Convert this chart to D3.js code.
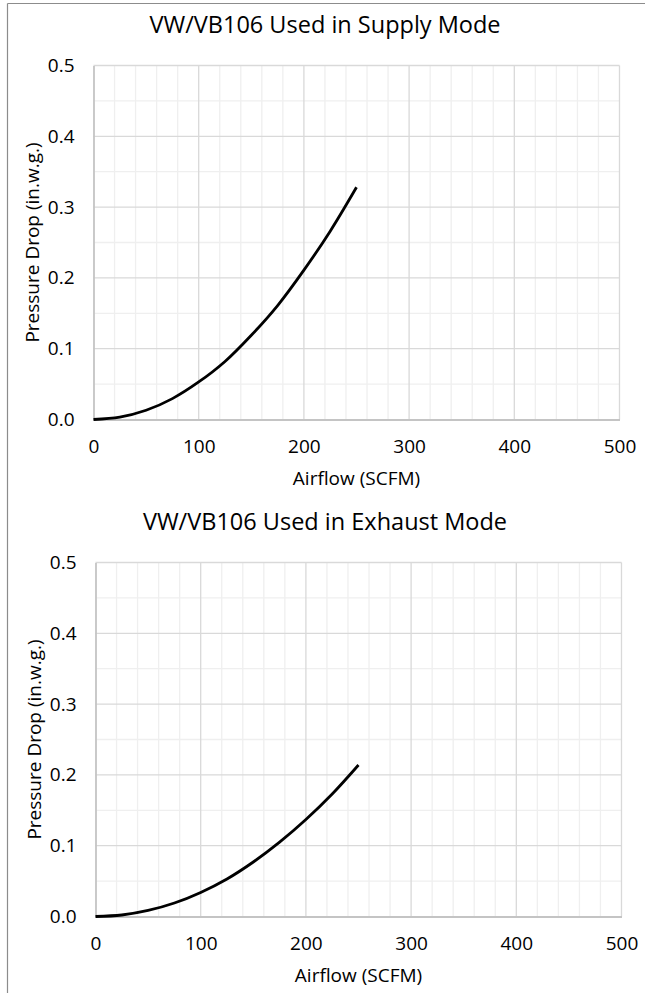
<!DOCTYPE html>
<html>
<head>
<meta charset="utf-8">
<script src="https://cdn.jsdelivr.net/npm/d3@7"></script>
<style>
  html, body { margin: 0; padding: 0; background: #fff; }
  svg { display: block; }
  text { font-family: "Open Sans", sans-serif; fill: #000; }
</style>
</head>
<body>
<svg id="chart" width="645" height="995"></svg>
<script>
// ---- Data ----
const chartTitles = ["VW/VB106 Used in Supply Mode", "VW/VB106 Used in Exhaust Mode"];
const xAxisTitle = "Airflow (SCFM)";
const yAxisTitle = "Pressure Drop (in.w.g.)";
const airflow = [0, 25, 50, 75, 100, 125, 150, 175, 200, 225, 250];
const supplyPressure = [0, 0.0033, 0.013, 0.0295, 0.053, 0.082, 0.119, 0.161, 0.211, 0.266, 0.328];
const exhaustPressure = [0, 0.0021, 0.0085, 0.019, 0.034, 0.053, 0.077, 0.105, 0.137, 0.173, 0.214];
const xTicks = [0, 100, 200, 300, 400, 500];
const yTicks = [0.0, 0.1, 0.2, 0.3, 0.4, 0.5];

const svg = d3.select("#chart");

// outer frame (partially visible chart border)
svg.append("line").attr("x1", 7.5).attr("x2", 645).attr("y1", 3.5).attr("y2", 3.5)
  .attr("stroke", "#8c8c8c").attr("stroke-width", 1.2);
svg.append("line").attr("x1", 7.5).attr("x2", 7.5).attr("y1", 3.5).attr("y2", 993)
  .attr("stroke", "#8c8c8c").attr("stroke-width", 1.2);

const panels = [
  { title: chartTitles[0], values: supplyPressure, left: 93.5, right: 619.5, top: 65.5, bottom: 419.5, titleY: 33 },
  { title: chartTitles[1], values: exhaustPressure, left: 95.5, right: 621.5, top: 562.5, bottom: 916.5, titleY: 530 }
];

panels.forEach(p => {
  const g = svg.append("g");
  const x = d3.scaleLinear().domain([0, 500]).range([p.left, p.right]);
  const y = d3.scaleLinear().domain([0, 0.5]).range([p.bottom, p.top]);

  // minor gridlines
  const xMinor = d3.range(0, 501, 20).filter(v => v % 100 !== 0);
  const yMinor = d3.range(0.05, 0.5, 0.1);
  g.append("g").selectAll("line").data(xMinor).join("line")
    .attr("x1", d => x(d)).attr("x2", d => x(d)).attr("y1", p.top).attr("y2", p.bottom)
    .attr("stroke", "#efefef").attr("stroke-width", 1.3);
  g.append("g").selectAll("line").data(yMinor).join("line")
    .attr("x1", p.left).attr("x2", p.right).attr("y1", d => y(d)).attr("y2", d => y(d))
    .attr("stroke", "#efefef").attr("stroke-width", 1.3);

  // major gridlines
  g.append("g").selectAll("line").data(xTicks.slice(1)).join("line")
    .attr("x1", d => x(d)).attr("x2", d => x(d)).attr("y1", p.top).attr("y2", p.bottom)
    .attr("stroke", "#d9d9d9").attr("stroke-width", 1.3);
  g.append("g").selectAll("line").data(yTicks.slice(1)).join("line")
    .attr("x1", p.left).attr("x2", p.right).attr("y1", d => y(d)).attr("y2", d => y(d))
    .attr("stroke", "#d9d9d9").attr("stroke-width", 1.3);

  // axes
  const xAxis = d3.axisBottom(x).tickValues(xTicks).tickSize(0).tickPadding(20).tickFormat(d3.format("d"));
  const xa = g.append("g").attr("transform", `translate(0,${p.bottom})`).call(xAxis);
  xa.select(".domain").attr("stroke", "#c4c4c4").attr("stroke-width", 1.8);
  xa.selectAll("text").attr("font-size", 19).attr("font-family", "Open Sans").attr("fill", "#000");

  const yAxis = d3.axisLeft(y).tickValues(yTicks).tickSize(0).tickPadding(19).tickFormat(d3.format(".1f"));
  const ya = g.append("g").attr("transform", `translate(${p.left},0)`).call(yAxis);
  ya.select(".domain").attr("stroke", "#c4c4c4").attr("stroke-width", 1.8);
  ya.selectAll("text").attr("font-size", 19).attr("font-family", "Open Sans").attr("fill", "#000");

  // curve
  const line = d3.line()
    .x((d, i) => x(airflow[i]))
    .y(d => y(d))
    .curve(d3.curveCatmullRom.alpha(0.5));
  g.append("path").datum(p.values).attr("d", line)
    .attr("fill", "none").attr("stroke", "#000").attr("stroke-width", 2.8)
    .attr("stroke-linecap", "butt");

  // titles
  g.append("text").attr("x", 325).attr("y", p.titleY).attr("text-anchor", "middle")
    .attr("font-size", 23.5).text(p.title);
  g.append("text").attr("x", (p.left + p.right) / 2).attr("y", p.bottom + 65)
    .attr("text-anchor", "middle").attr("font-size", 19).text(xAxisTitle);
  g.append("text")
    .attr("transform", `translate(${p.left - 55},${(p.top + p.bottom) / 2}) rotate(-90)`)
    .attr("text-anchor", "middle").attr("font-size", 19).text(yAxisTitle);
});
</script>
</body>
</html>
